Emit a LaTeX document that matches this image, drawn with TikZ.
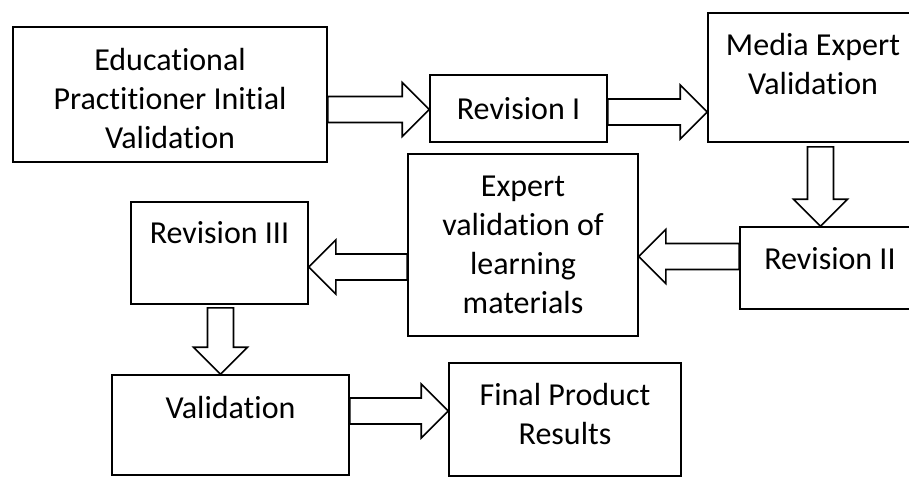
\documentclass[tikz,border=0pt]{standalone}
\usepackage{fontspec}
\setmainfont{Carlito}[Ligatures={NoCommon,NoContextual},RawFeature={-liga;-clig}]
\usetikzlibrary{calc}
\tikzset{
  box/.style={draw, line width=1.6pt, rectangle, inner sep=0pt},
  txt/.style={align=center, inner sep=0pt, font=\fontsize{32pt}{39pt}\selectfont},
  blk/.style={draw, line width=1.6pt, fill=white, line join=miter},
}
% #1 start coordinate name, #2 tip coordinate name
\newcommand\blockarrow[2]{%
  \coordinate (nk) at ($(#2)!27pt!(#1)$);
  \draw[blk] ($(#1)!13pt!90:(#2)$) -- ($(nk)!13pt!90:(#2)$) -- ($(nk)!27pt!90:(#2)$)
    -- (#2) -- ($(nk)!27pt!-90:(#2)$) -- ($(nk)!13pt!-90:(#2)$)
    -- ($(#1)!13pt!-90:(#2)$) -- cycle;}
\begin{document}
\begin{tikzpicture}[x=1pt,y=-1pt]
\useasboundingbox (0,0) rectangle (909,477);
% boxes
\node[box, minimum width=314pt, minimum height=135pt] (A) at (170,94.5) {};
\node[box, minimum width=177pt, minimum height=67pt] (B) at (518.5,108.5) {};
\node[box, minimum width=210pt, minimum height=129pt] (C) at (813,77.5) {};
\node[box, minimum width=180pt, minimum height=82pt] (D) at (830,268) {};
\node[box, minimum width=230pt, minimum height=182pt] (E) at (523,245) {};
\node[box, minimum width=177pt, minimum height=102pt] (F) at (219.5,253) {};
\node[box, minimum width=237pt, minimum height=100pt] (G) at (230.5,425) {};
\node[box, minimum width=232pt, minimum height=113pt] (H) at (565,419.5) {};
% texts
\node[txt] (At) at ([yshift=-4pt]A.center) {Educational\\Practitioner Initial\\Validation};
\node[txt] (Bt) at (B.center) {Revision I};
\node[txt] (Ct) at ([yshift=13.5pt]C.center) {Media Expert\\Validation};
\node[txt] (Dt) at ([yshift=9pt]D.center) {Revision II};
\node[txt] (Et) at (E.center) {Expert\\validation of\\learning\\materials};
\node[txt] (Ft) at ([yshift=20pt]F.center) {Revision III};
\node[txt] (Gt) at ([yshift=18pt]G.center) {Validation};
\node[txt] (Ht) at ([yshift=6pt]H.center) {Final Product\\Results};
% arrow end points
\coordinate (ab1) at (A.east |- 0,109.5);
\coordinate (ab2) at (B.west |- 0,109.5);
\coordinate (bc1) at (B.east |- 0,112);
\coordinate (bc2) at (C.west |- 0,112);
\coordinate (cd1) at ($(C.south -| 820.5,0)+(0,-4pt)$);
\coordinate (cd2) at (D.north -| 820.5,0);
\coordinate (de1) at (D.west |- 0,256.5);
\coordinate (de2) at (E.east |- 0,256.5);
\coordinate (ef1) at (E.west |- 0,267);
\coordinate (ef2) at (F.east |- 0,267);
\coordinate (fg1) at ($(F.south -| 220.5,0)+(0,-3pt)$);
\coordinate (fg2) at (G.north -| 220.5,0);
\coordinate (gh1) at (G.east |- 0,411);
\coordinate (gh2) at (H.west |- 0,411);
% connectors
\blockarrow{ab1}{ab2}
\blockarrow{bc1}{bc2}
\blockarrow{cd1}{cd2}
\blockarrow{de1}{de2}
\blockarrow{ef1}{ef2}
\blockarrow{fg1}{fg2}
\blockarrow{gh1}{gh2}
\end{tikzpicture}
\end{document}
